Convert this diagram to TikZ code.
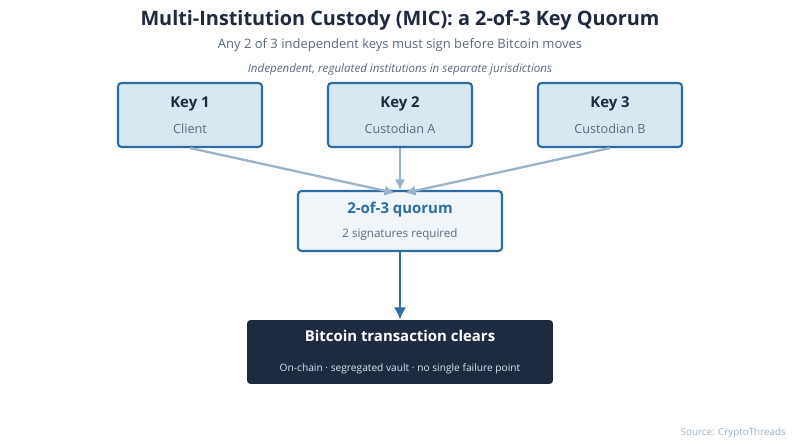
\documentclass[tikz,border=0pt]{standalone}
\usepackage{fontspec}
\setmainfont{Open Sans}
\usetikzlibrary{positioning,arrows.meta}
\definecolor{navy}{HTML}{1E2A40}
\definecolor{keyblue}{HTML}{2E6DA4}
\definecolor{keyfill}{HTML}{D6E8F0}
\definecolor{qfill}{HTML}{F0F6FA}
\definecolor{greytxt}{HTML}{5A6A7E}
\definecolor{link}{HTML}{9AB3C9}
\begin{document}
\begin{tikzpicture}[x=0.02cm,y=-0.02cm,
	keybox/.style={draw=keyblue,line width=1.2pt,fill=keyfill,rounded corners=2pt,minimum width=2.88cm,minimum height=1.28cm,align=center,inner sep=0pt},
	feed/.style={draw=link,line width=1.3pt,-{Latex[length=6pt,width=6pt]}}]
	\useasboundingbox[fill=white] (0,0) rectangle (800,445);
	% titles
	\node (title) at (400,20) {\fontsize{11.3}{13}\selectfont\bfseries\color{navy}Multi-Institution Custody (MIC): a 2-of-3 Key Quorum};
	\node (sub) at (400,45) {\fontsize{7.4}{9}\selectfont\color{greytxt}Any 2 of 3 independent keys must sign before Bitcoin moves};
	\node (note) at (400,69) {\fontsize{6.6}{8}\selectfont\itshape\color{greytxt}Independent, regulated institutions in separate jurisdictions};
	% keys
	\node[keybox] (key1) at (190,115) {{\fontsize{8.5}{10}\selectfont\bfseries\color{navy}Key 1}\\[3pt]{\fontsize{7.2}{9}\selectfont\color{greytxt}Client}};
	\node[keybox] (key2) at (400,115) {{\fontsize{8.5}{10}\selectfont\bfseries\color{navy}Key 2}\\[3pt]{\fontsize{7.2}{9}\selectfont\color{greytxt}Custodian A}};
	\node[keybox] (key3) at (610,115) {{\fontsize{8.5}{10}\selectfont\bfseries\color{navy}Key 3}\\[3pt]{\fontsize{7.2}{9}\selectfont\color{greytxt}Custodian B}};
	% quorum
	\node[draw=keyblue,line width=1.2pt,fill=qfill,rounded corners=2pt,minimum width=4.08cm,minimum height=1.2cm,align=center,inner sep=0pt] (quorum) at (400,221)
		{{\fontsize{8.5}{10}\selectfont\bfseries\color{keyblue}2-of-3 quorum}\\[2pt]{\fontsize{6.6}{8}\selectfont\color{greytxt}2 signatures required}};
	% result
	\node[fill=navy,rounded corners=2pt,minimum width=6.12cm,minimum height=1.28cm,align=center,inner sep=0pt] (clears) at (400,352)
		{{\fontsize{8.5}{10}\selectfont\bfseries\color{white}Bitcoin transaction clears}\\[5pt]{\fontsize{5.8}{7}\selectfont\color{keyfill}On-chain · segregated vault · no single failure point}};
	\coordinate (q1) at (395,193);
	\coordinate (q3) at (405,193);
	\draw[feed] (key1.south) -- (q1);
	\draw[feed] (key2.south) -- (quorum.north);
	\draw[feed] (key3.south) -- (q3);
	\draw[draw=keyblue,line width=1.6pt,-{Latex[length=7pt,width=7pt]}] (quorum.south) -- (clears.north);
	\node[anchor=east] (source) at (792,433) {\fontsize{5.6}{7}\selectfont\color{link}Source: CryptoThreads};
\end{tikzpicture}
\end{document}
